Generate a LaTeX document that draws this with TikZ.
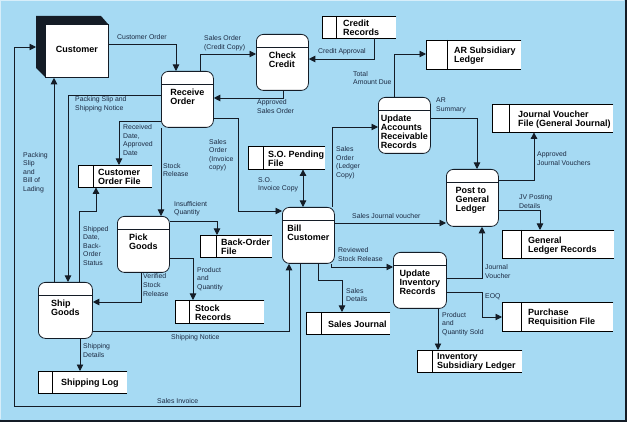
\documentclass[tikz,border=0pt]{standalone}
\usepackage{fontspec}
\setmainfont{Liberation Sans}
\usetikzlibrary{arrows.meta}
\definecolor{bgblue}{RGB}{166,218,243}
\definecolor{ink}{RGB}{20,28,38}
\definecolor{lbl}{RGB}{28,42,66}
\tikzset{
 dfarrow/.style={draw=ink, line width=0.9pt, -{Triangle[length=6.5pt,width=6.5pt]}},
 dfboth/.style={draw=ink, line width=0.9pt, {Triangle[length=6.5pt,width=6.5pt]}-{Triangle[length=6.5pt,width=6.5pt]}},
 procshape/.style={draw=ink, fill=white, line width=0.8pt, rounded corners=7pt, inner sep=0pt},
 titletext/.style={font=\fontsize{9}{9}\selectfont\bfseries, align=left, inner sep=0pt, text=black},
 lbltext/.style={font=\fontsize{6.9}{8.6}\selectfont, align=left, inner sep=0pt, anchor=north west, text=lbl},
 storeshape/.style={fill=white, draw=none, inner sep=0pt},
 storeline/.style={draw=black, line width=0.8pt},
}
% name, left, top, width, height, text
\newcommand\dfdproc[6]{%
  \node[procshape, minimum width=#4pt, minimum height=#5pt, anchor=north west] (#1) at (#2,#3) {};
  \draw[storeline, draw=ink] ([yshift=-13pt]#1.north west) -- ([yshift=-13pt]#1.north east);
  \node[titletext, anchor=north] (#1-t) at ([yshift=-18pt]#1.north) {#6};
}
% name, left, top, width, height, divider, text offset, text
\newcommand\dfdstore[8]{%
  \node[storeshape, minimum width=#4pt, minimum height=#5pt, anchor=north west] (#1) at (#2,#3) {};
  \draw[storeline] (#1.north east) -- (#1.north west) -- (#1.south west) -- (#1.south east);
  \draw[storeline] ([xshift=#6pt]#1.north west) -- ([xshift=#6pt]#1.south west);
  \node[titletext, anchor=west] (#1-t) at ([xshift={#6pt+#7pt},yshift=-1pt]#1.west) {#8};
}
\begin{document}
\begin{tikzpicture}[x=1pt,y=-1pt]
\useasboundingbox (0,0) rectangle (627,422);
\fill[bgblue] (0,0) rectangle (627,422);
\fill[ink] (624.5,0) rectangle (627,422);
\fill[ink] (0,419.5) rectangle (627,422);
\draw[white!55!bgblue, line width=1.2pt] (0.6,419) -- (0.6,0.6) -- (624,0.6);

% external entity
\fill[ink] (36,16) -- (101,16) -- (108,24) -- (45,24) -- (45,77) -- (36,68) -- cycle;
\node[draw=ink, fill=white, line width=0.8pt, minimum width=63pt, minimum height=53pt, anchor=north west, inner sep=0pt, font=\fontsize{9}{9}\selectfont\bfseries] (cust) at (45,24) {\raisebox{3pt}{Customer}};
\coordinate (custside) at (36,47);

% processes
\dfdproc{chk}{256}{34}{52}{56}{Check\\Credit}
\dfdproc{rcv}{161}{71}{52}{56}{Receive\\Order}
\dfdproc{uar}{378}{97}{52}{56}{Update\\Accounts\\Receivable\\Records}
\dfdproc{pick}{117}{216}{52}{56}{Pick\\Goods}
\dfdproc{bill}{282}{207}{52}{56}{Bill\\Customer}
\dfdproc{pgl}{446}{169}{52}{57}{Post to\\General\\Ledger}
\dfdproc{uinv}{393}{252}{53}{56}{Update\\Inventory\\Records}
\dfdproc{ship}{38}{282}{54}{56}{Ship\\Goods}

% data stores
\dfdstore{cr}{322}{16}{74}{22}{14}{7}{Credit\\Records}
\dfdstore{ars}{426}{40}{95}{29}{21}{7}{AR Subsidiary\\Ledger}
\dfdstore{jvf}{492}{104}{121}{28}{17}{9}{Journal Voucher\\File (General Journal)}
\dfdstore{cof}{78}{165}{74}{22}{15}{5}{Customer\\Order File}
\dfdstore{bof}{200}{235}{72}{22}{16}{5}{Back-Order\\File}
\dfdstore{sop}{248}{146}{77}{23}{15}{5}{S.O. Pending\\File}
\dfdstore{glr}{502}{230}{112}{28}{19}{7}{General\\Ledger Records}
\dfdstore{prf}{502}{302}{111}{29}{19}{7}{Purchase\\Requisition File}
\dfdstore{sj}{306}{312}{84}{22}{15}{7}{Sales Journal}
\dfdstore{isl}{417}{350}{105}{22}{15}{5}{Inventory\\Subsidiary Ledger}
\dfdstore{sr}{175}{300}{89}{23}{14}{6}{Stock\\Records}
\dfdstore{sl}{38}{371}{89}{22}{14}{9}{Shipping Log}

% flows
\draw[dfarrow] (cust.east |- 0,44) -- (176,44) -- (rcv.north -| 176,0);
\draw[dfarrow] (rcv.north -| 200,0) -- (200,54) -- (chk.west |- 0,54);
\draw[dfarrow] (chk.south -| 283,0) -- (283,98) -- (rcv.east |- 0,98);
\draw[dfarrow] (cr.south -| 374,0) -- (374,59) -- (chk.east |- 0,59);
\draw[dfarrow] (uar.north -| 394,0) -- (394,54) -- (ars.west |- 0,54);
\draw[dfarrow] (uar.east |- 0,118) -- (477,118) -- (pgl.north -| 477,0);
\draw[dfarrow] (bill.north -| 332,0) -- (332,127) -- (uar.west |- 0,127);
\draw[dfboth] (sop.south -| 303,0) -- (bill.north -| 303,0);
\draw[dfarrow] (rcv.east |- 0,118) -- (238,118) -- (238,211) -- (bill.west |- 0,211);
\draw[dfarrow] (rcv.west |- 0,95) -- (68,95) -- (ship.north -| 68,0);
\draw[dfarrow] (rcv.west |- 0,121) -- (119,121) -- (cof.north -| 119,0);
\draw[dfarrow] (rcv.south -| 161,0) -- (pick.north -| 161,0);
\draw[dfarrow] (pick.east |- 0,221) -- (217,221) -- (bof.north -| 217,0);
\draw[dfarrow] (pick.east |- 0,258) -- (193,258) -- (sr.north -| 193,0);
\draw[dfarrow] (pick.south -| 141,0) -- (141,302) -- (ship.east |- 0,302);
\draw[dfarrow] (ship.north -| 79,0) -- (79,211) -- (96,211) -- (cof.south -| 96,0);
\draw[dfarrow] (ship.north -| 54,0) -- (cust.south -| 54,0);
\draw[dfarrow] (ship.south -| 80,0) -- (sl.north -| 80,0);
\draw[dfarrow] (ship.east |- 0,331) -- (289,331) -- (bill.south -| 289,0);
\draw[dfarrow] (bill.south -| 300,0) -- (300,406) -- (14,406) -- (14,47) -- (custside);
\draw[dfarrow] (bill.east |- 0,223) -- (pgl.west |- 0,223);
\draw[dfarrow] (bill.south -| 331,0) -- (331,267) -- (uinv.west |- 0,267);
\draw[dfarrow] (bill.south -| 318,0) -- (318,280) -- (342,280) -- (sj.north -| 342,0);
\draw[dfarrow] (uinv.east |- 0,278) -- (482,278) -- (pgl.south -| 482,0);
\draw[dfarrow] (uinv.east |- 0,292) -- (482,292) -- (482,317) -- (prf.west |- 0,317);
\draw[dfarrow] (uinv.south -| 438,0) -- (isl.north -| 438,0);
\draw[dfarrow] (pgl.east |- 0,180) -- (534,180) -- (jvf.south -| 534,0);
\draw[dfarrow] (pgl.east |- 0,210) -- (540,210) -- (glr.north -| 540,0);

% labels
\node[lbltext] (l1) at (117,34.7) {Customer Order};
\node[lbltext] (l2) at (204,35.3) {Sales Order\\(Credit Copy)};
\node[lbltext] (l3) at (257,99.7) {Approved\\Sales Order};
\node[lbltext] (l4) at (318,48.7) {Credit Approval};
\node[lbltext] (l5) at (353,71) {Total\\Amount Due};
\node[lbltext] (l6) at (436,98) {AR\\Summary};
\node[lbltext] (l7) at (75,96.3) {Packing Slip and\\Shipping Notice};
\node[lbltext] (l8) at (123,124.5) {Received\\Date,\\Approved\\Date};
\node[lbltext] (l9) at (209,139) {Sales\\Order\\(Invoice\\copy)};
\node[lbltext] (l10) at (163,163) {Stock\\Release};
\node[lbltext] (l11) at (258,177) {S.O.\\Invoice Copy};
\node[lbltext] (l12) at (336,146.3) {Sales\\Order\\(Ledger\\Copy)};
\node[lbltext] (l13) at (23,152) {Packing\\Slip\\and\\Bill of\\Lading};
\node[lbltext] (l14) at (174,201) {Insufficient\\Quantity};
\node[lbltext] (l15) at (83,226) {Shipped\\Date,\\Back-\\Order\\Status};
\node[lbltext] (l16) at (197,267) {Product\\and\\Quantity};
\node[lbltext] (l17) at (143,273.7) {Verified\\Stock\\Release};
\node[lbltext] (l18) at (171,334.7) {Shipping Notice};
\node[lbltext] (l19) at (83,343.7) {Shipping\\Details};
\node[lbltext] (l20) at (157,398.7) {Sales Invoice};
\node[lbltext] (l21) at (352,213) {Sales Journal voucher};
\node[lbltext] (l22) at (338,247.7) {Reviewed\\Stock Release};
\node[lbltext] (l23) at (346,288) {Sales\\Details};
\node[lbltext] (l24) at (485,264.7) {Journal\\Voucher};
\node[lbltext] (l25) at (485,293.7) {EOQ};
\node[lbltext] (l26) at (442,312) {Product\\and\\Quantity Sold};
\node[lbltext] (l27) at (537,151.3) {Approved\\Journal Vouchers};
\node[lbltext] (l28) at (519,194.7) {JV Posting\\Details};
\end{tikzpicture}
\end{document}
